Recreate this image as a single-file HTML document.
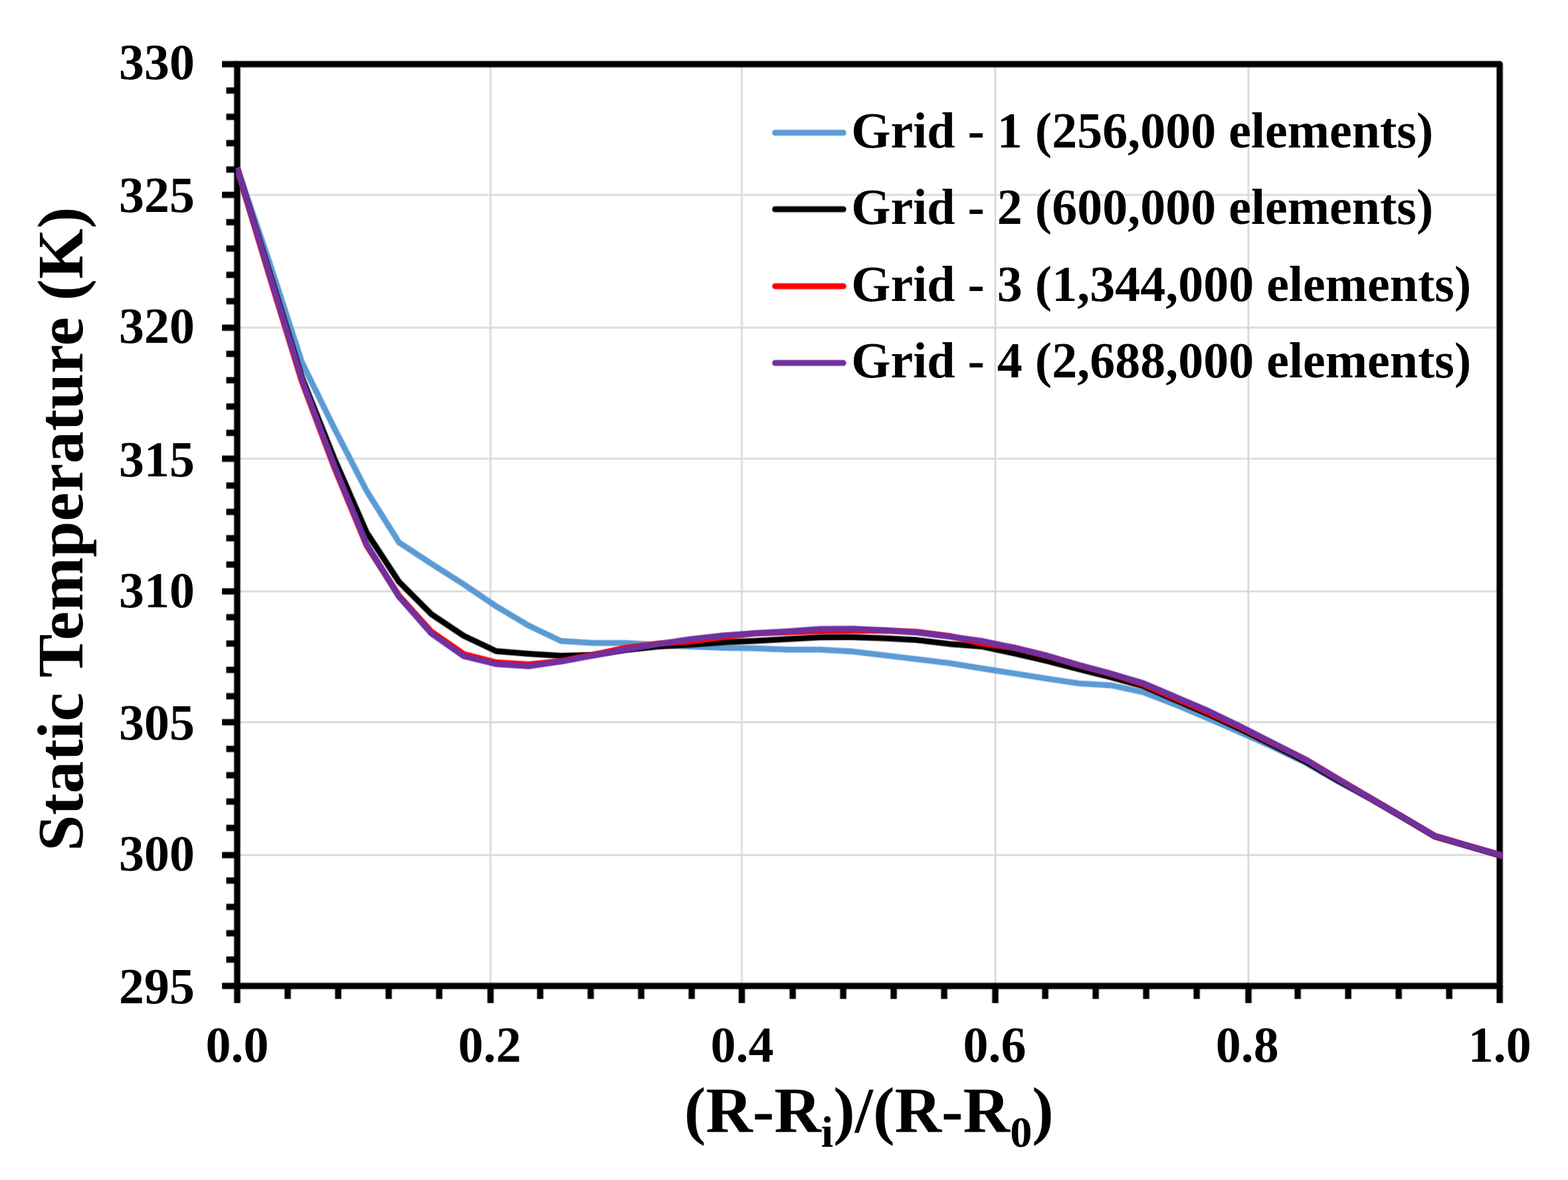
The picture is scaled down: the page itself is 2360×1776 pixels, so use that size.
<!DOCTYPE html>
<html lang="en">
<head>
<meta charset="utf-8">
<title>Static Temperature vs (R-Ri)/(R-R0) - grid independence</title>
<style>
html,body{margin:0;padding:0;background:#fff;}
body{width:2360px;height:1776px;overflow:hidden;}
svg{display:block;}
text{font-family:"Liberation Serif","DejaVu Serif",serif;font-weight:bold;fill:#000;}
.tick{font-size:76px;}
.title{font-size:97.7px;}
.sub{font-size:66.44px;}
.halo{stroke-opacity:0.45;}
</style>
</head>
<body>
<svg xmlns="http://www.w3.org/2000/svg" width="2360" height="1776" viewBox="0 0 2360 1776">
<rect x="0" y="0" width="2360" height="1776" fill="#ffffff"/>
<defs><clipPath id="plotclip"><rect x="355" y="86.6" width="1906.7" height="1407.3"/></clipPath></defs>
<g id="grid-halo" class="halo" stroke="#d9d9d9" stroke-width="4" fill="none">
<line x1="357" y1="293.3" x2="2257.2" y2="293.3"/>
<line x1="357" y1="493.2" x2="2257.2" y2="493.2"/>
<line x1="357" y1="690.4" x2="2257.2" y2="690.4"/>
<line x1="357" y1="890.1" x2="2257.2" y2="890.1"/>
<line x1="357" y1="1087" x2="2257.2" y2="1087"/>
<line x1="357" y1="1287" x2="2257.2" y2="1287"/>
<line x1="738.3" y1="96.6" x2="738.3" y2="1483.9"/>
<line x1="1116.5" y1="96.6" x2="1116.5" y2="1483.9"/>
<line x1="1498" y1="96.6" x2="1498" y2="1483.9"/>
<line x1="1879" y1="96.6" x2="1879" y2="1483.9"/>
</g>
<g id="grid" stroke="#d9d9d9" stroke-width="1.8" fill="none">
<line x1="357" y1="293.3" x2="2257.2" y2="293.3"/>
<line x1="357" y1="493.2" x2="2257.2" y2="493.2"/>
<line x1="357" y1="690.4" x2="2257.2" y2="690.4"/>
<line x1="357" y1="890.1" x2="2257.2" y2="890.1"/>
<line x1="357" y1="1087" x2="2257.2" y2="1087"/>
<line x1="357" y1="1287" x2="2257.2" y2="1287"/>
<line x1="738.3" y1="96.6" x2="738.3" y2="1483.9"/>
<line x1="1116.5" y1="96.6" x2="1116.5" y2="1483.9"/>
<line x1="1498" y1="96.6" x2="1498" y2="1483.9"/>
<line x1="1879" y1="96.6" x2="1879" y2="1483.9"/>
</g>
<g id="axes-halo" class="halo" stroke="#000000" stroke-width="10.7" fill="none">
<rect x="357" y="96.6" width="1900.2" height="1387.3" stroke-linejoin="round"/>
<line x1="340.6" y1="136.24" x2="357" y2="136.24"/>
<line x1="340.6" y1="175.87" x2="357" y2="175.87"/>
<line x1="340.6" y1="215.51" x2="357" y2="215.51"/>
<line x1="340.6" y1="255.15" x2="357" y2="255.15"/>
<line x1="340.6" y1="334.42" x2="357" y2="334.42"/>
<line x1="340.6" y1="374.06" x2="357" y2="374.06"/>
<line x1="340.6" y1="413.7" x2="357" y2="413.7"/>
<line x1="340.6" y1="453.33" x2="357" y2="453.33"/>
<line x1="340.6" y1="532.61" x2="357" y2="532.61"/>
<line x1="340.6" y1="572.25" x2="357" y2="572.25"/>
<line x1="340.6" y1="611.88" x2="357" y2="611.88"/>
<line x1="340.6" y1="651.52" x2="357" y2="651.52"/>
<line x1="340.6" y1="730.79" x2="357" y2="730.79"/>
<line x1="340.6" y1="770.43" x2="357" y2="770.43"/>
<line x1="340.6" y1="810.07" x2="357" y2="810.07"/>
<line x1="340.6" y1="849.71" x2="357" y2="849.71"/>
<line x1="340.6" y1="928.98" x2="357" y2="928.98"/>
<line x1="340.6" y1="968.62" x2="357" y2="968.62"/>
<line x1="340.6" y1="1008.25" x2="357" y2="1008.25"/>
<line x1="340.6" y1="1047.89" x2="357" y2="1047.89"/>
<line x1="340.6" y1="1127.17" x2="357" y2="1127.17"/>
<line x1="340.6" y1="1166.8" x2="357" y2="1166.8"/>
<line x1="340.6" y1="1206.44" x2="357" y2="1206.44"/>
<line x1="340.6" y1="1246.08" x2="357" y2="1246.08"/>
<line x1="340.6" y1="1325.35" x2="357" y2="1325.35"/>
<line x1="340.6" y1="1364.99" x2="357" y2="1364.99"/>
<line x1="340.6" y1="1404.63" x2="357" y2="1404.63"/>
<line x1="340.6" y1="1444.26" x2="357" y2="1444.26"/>
<line x1="334.2" y1="96.6" x2="357" y2="96.6"/>
<line x1="334.2" y1="293.3" x2="357" y2="293.3"/>
<line x1="334.2" y1="493.2" x2="357" y2="493.2"/>
<line x1="334.2" y1="690.4" x2="357" y2="690.4"/>
<line x1="334.2" y1="890.1" x2="357" y2="890.1"/>
<line x1="334.2" y1="1087" x2="357" y2="1087"/>
<line x1="334.2" y1="1287" x2="357" y2="1287"/>
<line x1="334.2" y1="1483.9" x2="357" y2="1483.9"/>
<line x1="357" y1="1483.9" x2="357" y2="1509.6"/>
<line x1="433.01" y1="1483.9" x2="433.01" y2="1503.4"/>
<line x1="509.02" y1="1483.9" x2="509.02" y2="1503.4"/>
<line x1="585.02" y1="1483.9" x2="585.02" y2="1503.4"/>
<line x1="661.03" y1="1483.9" x2="661.03" y2="1503.4"/>
<line x1="738.3" y1="1483.9" x2="738.3" y2="1509.6"/>
<line x1="813.05" y1="1483.9" x2="813.05" y2="1503.4"/>
<line x1="889.06" y1="1483.9" x2="889.06" y2="1503.4"/>
<line x1="965.06" y1="1483.9" x2="965.06" y2="1503.4"/>
<line x1="1041.07" y1="1483.9" x2="1041.07" y2="1503.4"/>
<line x1="1116.5" y1="1483.9" x2="1116.5" y2="1509.6"/>
<line x1="1193.09" y1="1483.9" x2="1193.09" y2="1503.4"/>
<line x1="1269.1" y1="1483.9" x2="1269.1" y2="1503.4"/>
<line x1="1345.1" y1="1483.9" x2="1345.1" y2="1503.4"/>
<line x1="1421.11" y1="1483.9" x2="1421.11" y2="1503.4"/>
<line x1="1498" y1="1483.9" x2="1498" y2="1509.6"/>
<line x1="1573.13" y1="1483.9" x2="1573.13" y2="1503.4"/>
<line x1="1649.14" y1="1483.9" x2="1649.14" y2="1503.4"/>
<line x1="1725.14" y1="1483.9" x2="1725.14" y2="1503.4"/>
<line x1="1801.15" y1="1483.9" x2="1801.15" y2="1503.4"/>
<line x1="1879" y1="1483.9" x2="1879" y2="1509.6"/>
<line x1="1953.17" y1="1483.9" x2="1953.17" y2="1503.4"/>
<line x1="2029.18" y1="1483.9" x2="2029.18" y2="1503.4"/>
<line x1="2105.18" y1="1483.9" x2="2105.18" y2="1503.4"/>
<line x1="2181.19" y1="1483.9" x2="2181.19" y2="1503.4"/>
<line x1="2257.2" y1="1483.9" x2="2257.2" y2="1509.6"/>
</g>
<g id="axes" stroke="#000000" stroke-width="8.5" fill="none">
<rect x="357" y="96.6" width="1900.2" height="1387.3" stroke-linejoin="round"/>
<line x1="340.6" y1="136.24" x2="357" y2="136.24"/>
<line x1="340.6" y1="175.87" x2="357" y2="175.87"/>
<line x1="340.6" y1="215.51" x2="357" y2="215.51"/>
<line x1="340.6" y1="255.15" x2="357" y2="255.15"/>
<line x1="340.6" y1="334.42" x2="357" y2="334.42"/>
<line x1="340.6" y1="374.06" x2="357" y2="374.06"/>
<line x1="340.6" y1="413.7" x2="357" y2="413.7"/>
<line x1="340.6" y1="453.33" x2="357" y2="453.33"/>
<line x1="340.6" y1="532.61" x2="357" y2="532.61"/>
<line x1="340.6" y1="572.25" x2="357" y2="572.25"/>
<line x1="340.6" y1="611.88" x2="357" y2="611.88"/>
<line x1="340.6" y1="651.52" x2="357" y2="651.52"/>
<line x1="340.6" y1="730.79" x2="357" y2="730.79"/>
<line x1="340.6" y1="770.43" x2="357" y2="770.43"/>
<line x1="340.6" y1="810.07" x2="357" y2="810.07"/>
<line x1="340.6" y1="849.71" x2="357" y2="849.71"/>
<line x1="340.6" y1="928.98" x2="357" y2="928.98"/>
<line x1="340.6" y1="968.62" x2="357" y2="968.62"/>
<line x1="340.6" y1="1008.25" x2="357" y2="1008.25"/>
<line x1="340.6" y1="1047.89" x2="357" y2="1047.89"/>
<line x1="340.6" y1="1127.17" x2="357" y2="1127.17"/>
<line x1="340.6" y1="1166.8" x2="357" y2="1166.8"/>
<line x1="340.6" y1="1206.44" x2="357" y2="1206.44"/>
<line x1="340.6" y1="1246.08" x2="357" y2="1246.08"/>
<line x1="340.6" y1="1325.35" x2="357" y2="1325.35"/>
<line x1="340.6" y1="1364.99" x2="357" y2="1364.99"/>
<line x1="340.6" y1="1404.63" x2="357" y2="1404.63"/>
<line x1="340.6" y1="1444.26" x2="357" y2="1444.26"/>
<line x1="334.2" y1="96.6" x2="357" y2="96.6"/>
<line x1="334.2" y1="293.3" x2="357" y2="293.3"/>
<line x1="334.2" y1="493.2" x2="357" y2="493.2"/>
<line x1="334.2" y1="690.4" x2="357" y2="690.4"/>
<line x1="334.2" y1="890.1" x2="357" y2="890.1"/>
<line x1="334.2" y1="1087" x2="357" y2="1087"/>
<line x1="334.2" y1="1287" x2="357" y2="1287"/>
<line x1="334.2" y1="1483.9" x2="357" y2="1483.9"/>
<line x1="357" y1="1483.9" x2="357" y2="1509.6"/>
<line x1="433.01" y1="1483.9" x2="433.01" y2="1503.4"/>
<line x1="509.02" y1="1483.9" x2="509.02" y2="1503.4"/>
<line x1="585.02" y1="1483.9" x2="585.02" y2="1503.4"/>
<line x1="661.03" y1="1483.9" x2="661.03" y2="1503.4"/>
<line x1="738.3" y1="1483.9" x2="738.3" y2="1509.6"/>
<line x1="813.05" y1="1483.9" x2="813.05" y2="1503.4"/>
<line x1="889.06" y1="1483.9" x2="889.06" y2="1503.4"/>
<line x1="965.06" y1="1483.9" x2="965.06" y2="1503.4"/>
<line x1="1041.07" y1="1483.9" x2="1041.07" y2="1503.4"/>
<line x1="1116.5" y1="1483.9" x2="1116.5" y2="1509.6"/>
<line x1="1193.09" y1="1483.9" x2="1193.09" y2="1503.4"/>
<line x1="1269.1" y1="1483.9" x2="1269.1" y2="1503.4"/>
<line x1="1345.1" y1="1483.9" x2="1345.1" y2="1503.4"/>
<line x1="1421.11" y1="1483.9" x2="1421.11" y2="1503.4"/>
<line x1="1498" y1="1483.9" x2="1498" y2="1509.6"/>
<line x1="1573.13" y1="1483.9" x2="1573.13" y2="1503.4"/>
<line x1="1649.14" y1="1483.9" x2="1649.14" y2="1503.4"/>
<line x1="1725.14" y1="1483.9" x2="1725.14" y2="1503.4"/>
<line x1="1801.15" y1="1483.9" x2="1801.15" y2="1503.4"/>
<line x1="1879" y1="1483.9" x2="1879" y2="1509.6"/>
<line x1="1953.17" y1="1483.9" x2="1953.17" y2="1503.4"/>
<line x1="2029.18" y1="1483.9" x2="2029.18" y2="1503.4"/>
<line x1="2105.18" y1="1483.9" x2="2105.18" y2="1503.4"/>
<line x1="2181.19" y1="1483.9" x2="2181.19" y2="1503.4"/>
<line x1="2257.2" y1="1483.9" x2="2257.2" y2="1509.6"/>
</g>
<g id="ylabels" class="tick" text-anchor="end">
<text x="293" y="119.4">330</text>
<text x="293" y="319.2">325</text>
<text x="293" y="516.3">320</text>
<text x="293" y="716.7">315</text>
<text x="293" y="913.7">310</text>
<text x="293" y="1113.2">305</text>
<text x="293" y="1310.1">300</text>
<text x="293" y="1510.1">295</text>
</g>
<g id="xlabels" class="tick" text-anchor="middle">
<text x="357" y="1598">0.0</text>
<text x="737.04" y="1598">0.2</text>
<text x="1117.08" y="1598">0.4</text>
<text x="1497.12" y="1598">0.6</text>
<text x="1877.16" y="1598">0.8</text>
<text x="2257.2" y="1598">1.0</text>
</g>
<text id="xtitle" class="title" text-anchor="middle" x="1307.8" y="1704.4">(R-R<tspan class="sub" dy="22">i</tspan><tspan dy="-22">)/(R-R</tspan><tspan class="sub" dy="22">0</tspan><tspan dy="-22">)</tspan></text>
<text id="ytitle" class="title" text-anchor="middle" transform="translate(124.1 796.3) rotate(-90)" x="0" y="0">Static Temperature (K)</text>
<g id="series" fill="none" stroke-linejoin="round" stroke-linecap="butt" clip-path="url(#plotclip)">
<polyline class="halo" stroke="#5b9bd5" stroke-width="10.1" points="357,252.7 405.72,395.5 454.45,545.5 503.17,644.5 551.89,739 600.62,816.5 649.34,848.5 698.06,879.5 746.78,912.5 795.51,941.5 844.23,964.7 892.95,967.8 941.68,967.8 990.4,970.5 1039.12,973.1 1087.85,975 1136.57,975.8 1185.29,977.8 1234.02,977.8 1282.74,980.5 1331.46,986.3 1380.18,992.2 1428.91,998.1 1477.63,1006 1526.35,1013.6 1575.08,1021.3 1623.8,1028.6 1672.52,1031.5 1721.25,1042 1769.97,1060.8 1818.69,1081.4 1867.42,1102.7 1916.14,1124.4 1964.86,1147.9 2013.58,1176 2062.31,1202 2111.03,1230.3 2159.75,1259.1 2208.48,1273.3 2257.2,1287.4 2264.2,1289.43"/>
<polyline id="g1" stroke="#5b9bd5" stroke-width="7.9" points="357,252.7 405.72,395.5 454.45,545.5 503.17,644.5 551.89,739 600.62,816.5 649.34,848.5 698.06,879.5 746.78,912.5 795.51,941.5 844.23,964.7 892.95,967.8 941.68,967.8 990.4,970.5 1039.12,973.1 1087.85,975 1136.57,975.8 1185.29,977.8 1234.02,977.8 1282.74,980.5 1331.46,986.3 1380.18,992.2 1428.91,998.1 1477.63,1006 1526.35,1013.6 1575.08,1021.3 1623.8,1028.6 1672.52,1031.5 1721.25,1042 1769.97,1060.8 1818.69,1081.4 1867.42,1102.7 1916.14,1124.4 1964.86,1147.9 2013.58,1176 2062.31,1202 2111.03,1230.3 2159.75,1259.1 2208.48,1273.3 2257.2,1287.4 2264.2,1289.43"/>
<polyline class="halo" stroke="#000000" stroke-width="10.1" points="357,253.7 405.72,410 454.45,568 503.17,690.4 551.89,801.5 600.62,875.8 649.34,924.5 698.06,957 746.78,980 795.51,984 844.23,987 892.95,985.8 941.68,978.3 990.4,973 1039.12,970.4 1087.85,966.8 1136.57,964.6 1185.29,961.9 1234.02,959.2 1282.74,959 1331.46,960.6 1380.18,963.3 1428.91,969.2 1477.63,973 1526.35,983.3 1575.08,994.6 1623.8,1007.2 1672.52,1019.4 1721.25,1032.8 1769.97,1054 1818.69,1074.8 1867.42,1097.7 1916.14,1121.7 1964.86,1146.1 2013.58,1174.6 2062.31,1201.7 2111.03,1230 2159.75,1258.8 2208.48,1273 2257.2,1287.1 2264.2,1289.13"/>
<polyline id="g2" stroke="#000000" stroke-width="7.9" points="357,253.7 405.72,410 454.45,568 503.17,690.4 551.89,801.5 600.62,875.8 649.34,924.5 698.06,957 746.78,980 795.51,984 844.23,987 892.95,985.8 941.68,978.3 990.4,973 1039.12,970.4 1087.85,966.8 1136.57,964.6 1185.29,961.9 1234.02,959.2 1282.74,959 1331.46,960.6 1380.18,963.3 1428.91,969.2 1477.63,973 1526.35,983.3 1575.08,994.6 1623.8,1007.2 1672.52,1019.4 1721.25,1032.8 1769.97,1054 1818.69,1074.8 1867.42,1097.7 1916.14,1121.7 1964.86,1146.1 2013.58,1174.6 2062.31,1201.7 2111.03,1230 2159.75,1258.8 2208.48,1273 2257.2,1287.1 2264.2,1289.13"/>
<polyline class="halo" stroke="#ff0000" stroke-width="10.1" points="357,253.7 405.72,416 454.45,574.5 503.17,703.7 551.89,821.3 600.62,896.7 649.34,950.6 698.06,984.5 746.78,997 795.51,999.9 844.23,995 892.95,985.4 941.68,974.9 990.4,968.8 1039.12,965.5 1087.85,959.1 1136.57,953.2 1185.29,951.7 1234.02,950 1282.74,949.6 1331.46,949.1 1380.18,950.9 1428.91,957.2 1477.63,968.6 1526.35,975 1575.08,987 1623.8,1001.4 1672.52,1014.5 1721.25,1030.3 1769.97,1051.6 1818.69,1072.6 1867.42,1095.1 1916.14,1119.1 1964.86,1143.2 2013.58,1172.3 2062.31,1201.2 2111.03,1229.5 2159.75,1258.3 2208.48,1272.5 2257.2,1286.6 2264.2,1288.63"/>
<polyline id="g3" stroke="#ff0000" stroke-width="7.9" points="357,253.7 405.72,416 454.45,574.5 503.17,703.7 551.89,821.3 600.62,896.7 649.34,950.6 698.06,984.5 746.78,997 795.51,999.9 844.23,995 892.95,985.4 941.68,974.9 990.4,968.8 1039.12,965.5 1087.85,959.1 1136.57,953.2 1185.29,951.7 1234.02,950 1282.74,949.6 1331.46,949.1 1380.18,950.9 1428.91,957.2 1477.63,968.6 1526.35,975 1575.08,987 1623.8,1001.4 1672.52,1014.5 1721.25,1030.3 1769.97,1051.6 1818.69,1072.6 1867.42,1095.1 1916.14,1119.1 1964.86,1143.2 2013.58,1172.3 2062.31,1201.2 2111.03,1229.5 2159.75,1258.3 2208.48,1272.5 2257.2,1286.6 2264.2,1288.63"/>
<polyline class="halo" stroke="#7030a0" stroke-width="10.1" points="357,253.7 405.72,413 454.45,571.5 503.17,700.7 551.89,819.3 600.62,898.2 649.34,953.6 698.06,987.7 746.78,999.5 795.51,1002.8 844.23,995.6 892.95,986.7 941.68,977.5 990.4,969.3 1039.12,962 1087.85,956.5 1136.57,953 1185.29,950.2 1234.02,946.6 1282.74,946.3 1331.46,948.5 1380.18,952 1428.91,958 1477.63,964.6 1526.35,974.8 1575.08,986.7 1623.8,1001.1 1672.52,1014 1721.25,1028.4 1769.97,1049.2 1818.69,1070 1867.42,1093.6 1916.14,1118.4 1964.86,1143.2 2013.58,1172.3 2062.31,1201.2 2111.03,1229.5 2159.75,1258.3 2208.48,1272.5 2257.2,1286.6 2264.2,1288.63"/>
<polyline id="g4" stroke="#7030a0" stroke-width="7.9" points="357,253.7 405.72,413 454.45,571.5 503.17,700.7 551.89,819.3 600.62,898.2 649.34,953.6 698.06,987.7 746.78,999.5 795.51,1002.8 844.23,995.6 892.95,986.7 941.68,977.5 990.4,969.3 1039.12,962 1087.85,956.5 1136.57,953 1185.29,950.2 1234.02,946.6 1282.74,946.3 1331.46,948.5 1380.18,952 1428.91,958 1477.63,964.6 1526.35,974.8 1575.08,986.7 1623.8,1001.1 1672.52,1014 1721.25,1028.4 1769.97,1049.2 1818.69,1070 1867.42,1093.6 1916.14,1118.4 1964.86,1143.2 2013.58,1172.3 2062.31,1201.2 2111.03,1229.5 2159.75,1258.3 2208.48,1272.5 2257.2,1286.6 2264.2,1288.63"/>
</g>
<g id="legend" class="tick">
<line class="halo" x1="1166.7" y1="199.7" x2="1269.2" y2="199.7" stroke="#5b9bd5" stroke-width="10.1" stroke-linecap="round"/>
<line x1="1166.7" y1="199.7" x2="1269.2" y2="199.7" stroke="#5b9bd5" stroke-width="7.9" stroke-linecap="round"/>
<text x="1281.3" y="221.7">Grid - 1 (256,000 elements)</text>
<line class="halo" x1="1166.7" y1="314.9" x2="1269.2" y2="314.9" stroke="#000000" stroke-width="10.1" stroke-linecap="round"/>
<line x1="1166.7" y1="314.9" x2="1269.2" y2="314.9" stroke="#000000" stroke-width="7.9" stroke-linecap="round"/>
<text x="1281.3" y="336.9">Grid - 2 (600,000 elements)</text>
<line class="halo" x1="1166.7" y1="430.7" x2="1269.2" y2="430.7" stroke="#ff0000" stroke-width="10.1" stroke-linecap="round"/>
<line x1="1166.7" y1="430.7" x2="1269.2" y2="430.7" stroke="#ff0000" stroke-width="7.9" stroke-linecap="round"/>
<text x="1281.3" y="452.7">Grid - 3 (1,344,000 elements)</text>
<line class="halo" x1="1166.7" y1="546.3" x2="1269.2" y2="546.3" stroke="#7030a0" stroke-width="10.1" stroke-linecap="round"/>
<line x1="1166.7" y1="546.3" x2="1269.2" y2="546.3" stroke="#7030a0" stroke-width="7.9" stroke-linecap="round"/>
<text x="1281.3" y="568.3">Grid - 4 (2,688,000 elements)</text>
</g>
</svg>
</body>
</html>
